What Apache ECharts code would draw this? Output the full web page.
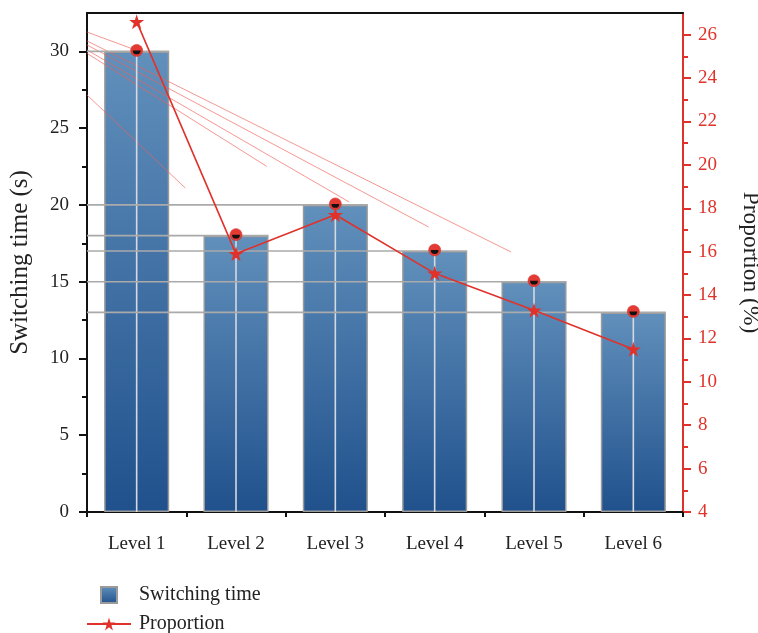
<!DOCTYPE html>
<html>
<head>
<meta charset="utf-8">
<script src="https://cdn.jsdelivr.net/npm/echarts@6/dist/echarts.min.js"></script>
<style>
html,body{margin:0;padding:0;background:#fff;}
#chart{width:758px;height:633px;}
</style>
</head>
<body>
<div id="chart"></div>
<script>
// ---- data ----
var categories = ['Level 1', 'Level 2', 'Level 3', 'Level 4', 'Level 5', 'Level 6'];
var switchingTime = [30, 18, 20, 17, 15, 13];
var proportion = [26.6, 15.9, 17.7, 15.0, 13.3, 11.5];
var leftTicks = [0, 5, 10, 15, 20, 25, 30];
var leftMinorTicks = [2.5, 7.5, 12.5, 17.5, 22.5, 27.5];
var rightTicks = [4, 6, 8, 10, 12, 14, 16, 18, 20, 22, 24, 26];
var rightMinorTicks = [5, 7, 9, 11, 13, 15, 17, 19, 21, 23, 25];
// faint streak lines seen in the source image, [x (category position), y (left-axis value)] pairs
var streakStart = [[-0.5, 31.26], [-0.5, 30.68], [-0.5, 30.42], [-0.5, 30.09], [-0.5, 29.87], [-0.5, 27.16]];
var streakEnd = [[-0.04, 30.16], [3.77, 16.93], [2.94, 18.56], [2.14, 20.19], [1.31, 22.51], [0.49, 21.10]];

var FONT = '"Liberation Serif", "DejaVu Serif", serif';
var RED = '#e0322a';
var BAR_RATIO = 0.655;
var STAR = 'path://M50,0 L61.2,34.5 L97.6,34.5 L68.2,55.9 L79.4,90.5 L50,69.1 L20.6,90.5 L31.8,55.9 L2.4,34.5 L38.8,34.5 Z';

var barGradient = new echarts.graphic.LinearGradient(0, 0, 0, 1, [
  {offset: 0, color: '#6190bc'},
  {offset: 1, color: '#20518c'}
]);

var overlayData = switchingTime.map(function (v, i) { return [i, v]; });
var streakData = streakStart.map(function (s, i) { return {coords: [s, streakEnd[i]]}; });

function renderOverlay(params, api) {
  var idx = api.value(0);
  var v = api.value(1);
  var top = api.coord([idx, v]);
  var base = api.coord([idx, 0]);
  var band = api.size([1, 0])[0];
  var half = band * BAR_RATIO / 2;
  var x0 = params.coordSys.x;
  return {
    type: 'group',
    children: [
      {type: 'line', shape: {x1: x0, y1: top[1], x2: top[0] + half, y2: top[1]},
       style: {stroke: '#aaaaaa', lineWidth: 1.6}},
      {type: 'line', shape: {x1: top[0], y1: top[1], x2: top[0], y2: base[1]},
       style: {stroke: '#d4dae2', lineWidth: 1.6}},
      {type: 'circle', shape: {cx: top[0], cy: top[1] - 1, r: 6},
       style: {fill: '#e53a33', stroke: '#d0302a', lineWidth: 0.6}},
      {type: 'sector', shape: {cx: top[0], cy: top[1] - 1, r0: 0, r: 3.9, startAngle: 0, endAngle: Math.PI, clockwise: true},
       style: {fill: '#111'}}
    ]
  };
}

var chart = echarts.init(document.getElementById('chart'), null, {renderer: 'canvas'});
chart.setOption({
  animation: false,
  backgroundColor: '#fff',
  textStyle: {fontFamily: FONT},
  grid: {left: 87, right: 75, top: 13, bottom: 121, containLabel: false, outerBoundsMode: 'none'},
  legend: [
    {
      left: 100, top: 585, itemWidth: 16, itemHeight: 16, itemGap: 0, padding: 0,
      data: [{name: 'Switching time', icon: 'rect'}],
      textStyle: {fontFamily: FONT, fontSize: 20, color: '#222', padding: [0, 0, 0, 17]}
    },
    {
      left: 86, top: 614, itemWidth: 44, itemHeight: 16, itemGap: 0, padding: 0,
      data: ['Proportion'],
      textStyle: {fontFamily: FONT, fontSize: 20, color: '#222', padding: [0, 0, 0, 3]}
    }
  ],
  xAxis: [
    {
      type: 'category', data: categories, position: 'bottom',
      axisLine: {onZero: false, lineStyle: {color: '#111', width: 2}},
      axisTick: {alignWithLabel: true, length: 8, lineStyle: {color: '#111', width: 2}},
      axisLabel: {fontFamily: FONT, fontSize: 19, color: '#222', margin: 23}
    },
    {
      type: 'category', data: categories, position: 'bottom',
      axisLine: {show: false, onZero: false},
      axisTick: {show: true, length: 5, lineStyle: {color: '#111', width: 2}},
      axisLabel: {show: false}
    },
    {
      type: 'category', data: categories, position: 'top',
      axisLine: {onZero: false, lineStyle: {color: '#111', width: 2}},
      axisTick: {show: false}, axisLabel: {show: false}
    },
    {
      type: 'value', min: -0.5, max: 5.5, position: 'bottom', show: false,
      axisLine: {onZero: false}
    }
  ],
  yAxis: [
    {
      type: 'value', min: 0, max: 32.5, position: 'left',
      name: 'Switching time (s)', nameLocation: 'middle', nameGap: 54, nameRotate: 90,
      nameTextStyle: {fontFamily: FONT, fontSize: 25, color: '#222'},
      axisLine: {show: true, onZero: false, lineStyle: {color: '#111', width: 2}},
      axisTick: {show: true, length: 8, customValues: leftTicks, lineStyle: {color: '#111', width: 2}},
      axisLabel: {fontFamily: FONT, fontSize: 19, color: '#222', margin: 18, customValues: leftTicks},
      splitLine: {show: false}
    },
    {
      type: 'value', min: 4, max: 27, position: 'right',
      name: 'Proportion (%)', nameLocation: 'middle', nameGap: 55, nameRotate: -90,
      nameTextStyle: {fontFamily: FONT, fontSize: 23.5, color: '#222'},
      axisLine: {show: true, onZero: false, lineStyle: {color: RED, width: 2}},
      axisTick: {show: true, length: 8, customValues: rightTicks, lineStyle: {color: RED, width: 2}},
      axisLabel: {fontFamily: FONT, fontSize: 19, color: RED, margin: 15, customValues: rightTicks},
      splitLine: {show: false}
    },
    {
      type: 'value', min: 0, max: 32.5, position: 'left',
      axisLine: {show: false, onZero: false},
      axisTick: {show: true, length: 5, customValues: leftMinorTicks, lineStyle: {color: '#111', width: 2}},
      axisLabel: {show: false}, splitLine: {show: false}
    },
    {
      type: 'value', min: 4, max: 27, position: 'right',
      axisLine: {show: false, onZero: false},
      axisTick: {show: true, length: 5, customValues: rightMinorTicks, lineStyle: {color: RED, width: 2}},
      axisLabel: {show: false}, splitLine: {show: false}
    }
  ],
  series: [
    {
      name: 'Switching time', type: 'bar', xAxisIndex: 0, yAxisIndex: 0,
      data: switchingTime, barWidth: (BAR_RATIO * 100) + '%',
      itemStyle: {color: barGradient, borderColor: '#9a9a9a', borderWidth: 1.5},
      z: 2
    },
    {
      name: 'streaks', type: 'lines', coordinateSystem: 'cartesian2d',
      xAxisIndex: 3, yAxisIndex: 0, data: streakData, silent: true,
      lineStyle: {color: 'rgba(240,96,88,0.65)', width: 1, opacity: 1},
      z: 3
    },
    {
      name: 'overlay', type: 'custom', xAxisIndex: 0, yAxisIndex: 0,
      data: overlayData, renderItem: renderOverlay, encode: {x: 0, y: 1},
      z: 3, silent: true
    },
    {
      name: 'Proportion', type: 'line', xAxisIndex: 0, yAxisIndex: 1,
      data: proportion, symbol: STAR, symbolSize: 15,
      lineStyle: {color: RED, width: 1.6},
      itemStyle: {color: RED},
      z: 5
    }
  ]
});
</script>
</body>
</html>
